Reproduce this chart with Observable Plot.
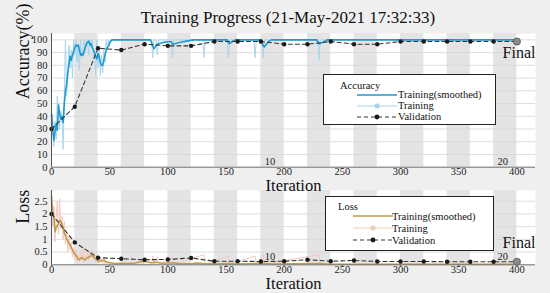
<!DOCTYPE html>
<html><head><meta charset="utf-8">
<script src="https://cdn.jsdelivr.net/npm/d3@7"></script>
<script src="https://cdn.jsdelivr.net/npm/@observablehq/plot@0.6"></script>
<style>
html,body{margin:0;padding:0;background:#efefef;}
#fig{position:relative;width:550px;height:293px;background:#efefef;font-family:"Liberation Serif","Times New Roman",serif;overflow:hidden;color:#111;}
#fig > svg{position:absolute;left:0;top:0;}
.title{position:absolute;left:40px;width:496px;top:8px;text-align:center;font-size:17px;line-height:20px;white-space:nowrap;}
.legend{position:absolute;background:#fff;border:1.5px solid #222;box-sizing:border-box;}
.legend .lt{position:absolute;font-size:10.5px;line-height:11px;white-space:nowrap;}
.legend .row{position:absolute;height:11px;white-space:nowrap;font-size:10.5px;line-height:11px;}
.legend .row svg{position:absolute;top:0.5px;left:0;}
.legend .row span{position:absolute;top:0;}
</style></head>
<body>
<div id="fig">
  <div class="title">Training Progress (21-May-2021 17:32:33)</div>
</div>
<script>
// ---------- data ----------
const xTicks = [0, 50, 100, 150, 200, 250, 300, 350, 400];
const accTicks = [0, 10, 20, 30, 40, 50, 60, 70, 80, 90, 100];
const lossTicks = [0, 0.5, 1, 1.5, 2, 2.5];
const epochBands = [[20,40],[60,80],[100,120],[140,160],[180,200],[220,240],[260,280],[300,320],[340,360],[380,400]];
const epochLabels = [{it: 200, label: "10"}, {it: 400, label: "20"}];

const rawAcc = [[0,30],[1,42],[2,16],[3,36],[4,22],[5,56],[6,46],[7,30],[8,44],[9,40],[10,14],[11,58],[12,100],[13,56],[14,72],[15,96],[16,78],[17,92],[18,70],[19,100],[20,88],[21,100],[22,82],[23,94],[24,76],[25,100],[26,86],[27,94],[28,100],[29,90],[30,100],[31,96],[32,88],[33,100],[34,94],[35,100],[36,86],[37,92],[38,72],[39,100],[40,78],[41,94],[42,72],[43,88],[44,74],[45,92],[46,82],[47,100],[48,92],[49,100],[50,96],[51,100],[52,100],[86,100],[87,86],[88,100],[90,100],[91,88],[92,100],[103,100],[104,86],[105,100],[130,100],[131,86],[132,100],[151,100],[152,86],[153,100],[174,100],[175,86],[176,100],[181,100],[182,86],[183,100],[229,100],[230,84],[231,100],[400,100]];

const smoothAcc = [[0,41],[1,30],[2,21],[3,28],[4,34],[5,29],[6,49],[7,42],[8,38],[9,40],[10,35],[11,50],[12,60],[13,65],[14,74],[15,81],[16,87],[17,84],[18,88],[19,91],[20,94],[21,96],[22,95],[23,96],[24,92],[25,88],[26,89],[27,88],[28,91],[29,94],[30,97],[31,98],[32,99],[33,96],[34,97],[35,94],[36,92],[37,90],[38,87],[39,85],[40,89],[41,87],[42,82],[43,80],[44,80],[45,84],[46,88],[47,92],[48,94],[49,95],[50,98],[51,99],[52,100],[85,100],[86,98],[87,95],[88,93],[89,94],[90,96],[92,97],[96,98],[101,98.5],[103,98.5],[104,96.5],[106,97],[110,98],[116,99],[122,100],[151,100],[152,98],[153,97],[155,98.5],[158,100],[180,100],[181,97.5],[182,95.5],[183,94.5],[185,97],[187,99],[189,100],[228,100],[229,98],[230,97],[233,98],[237,100],[400,100]];

const valAcc = [[0,30],[20,47.5],[40,93.5],[60,92],[80,96.6],[100,95.3],[120,95.3],[140,98.7],[160,98.7],[180,98.7],[200,96.6],[220,96.6],[240,98.7],[260,96.6],[280,96.6],[300,98.7],[320,98.7],[340,98.7],[360,98.7],[380,98.7],[400,98.7]];

const rawLoss = [[0,2.8],[1,1.5],[2,2.3],[3,0.9],[4,1.9],[5,2.5],[6,1.2],[7,2.6],[8,1.4],[9,1.9],[10,1.0],[11,1.7],[12,0.8],[13,1.3],[14,0.5],[15,1.1],[16,0.6],[17,0.9],[18,0.3],[19,0.7],[20,0.2],[21,0.6],[22,0.15],[23,0.4],[24,0.1],[25,0.5],[26,0.2],[27,0.7],[28,0.1],[29,0.4],[30,0.25],[31,0.6],[32,0.15],[33,0.5],[34,0.3],[35,0.6],[36,0.2],[37,0.45],[38,0.1],[39,0.3],[40,0.05],[41,0.35],[42,0.1],[43,0.25],[44,0.05],[45,0.3],[46,0.05],[47,0.15],[48,0.02],[49,0.1],[50,0.03],[52,0.02],[86,0.02],[87,0.35],[88,0.02],[91,0.3],[92,0.02],[104,0.3],[105,0.02],[131,0.4],[132,0.02],[152,0.35],[153,0.02],[175,0.35],[176,0.02],[182,0.4],[183,0.02],[230,0.4],[231,0.02],[400,0.02]];

const smoothLoss = [[0,2.7],[1,2.1],[2,1.9],[3,1.3],[4,1.45],[5,1.55],[6,1.6],[7,1.75],[8,1.7],[9,1.6],[10,1.45],[11,1.25],[12,1.15],[13,1.0],[14,0.95],[15,0.85],[16,0.78],[17,0.68],[18,0.58],[19,0.5],[20,0.42],[21,0.38],[22,0.3],[23,0.22],[24,0.2],[25,0.25],[26,0.28],[27,0.24],[28,0.2],[29,0.2],[30,0.24],[31,0.28],[32,0.3],[33,0.33],[34,0.36],[35,0.37],[36,0.32],[37,0.27],[38,0.24],[39,0.18],[40,0.14],[41,0.13],[43,0.16],[45,0.18],[47,0.12],[48,0.1],[50,0.08],[54,0.05],[60,0.06],[66,0.05],[72,0.07],[77,0.13],[82,0.12],[86,0.08],[90,0.1],[95,0.06],[104,0.08],[110,0.05],[120,0.04],[125,0.07],[130,0.05],[140,0.03],[152,0.05],[160,0.03],[182,0.06],[190,0.03],[230,0.05],[240,0.02],[400,0.02]];

const valLoss = [[0,2.0],[20,0.88],[40,0.28],[60,0.24],[80,0.2],[100,0.21],[120,0.27],[140,0.14],[160,0.14],[180,0.13],[200,0.14],[220,0.2],[240,0.14],[260,0.17],[280,0.13],[300,0.13],[320,0.13],[340,0.12],[360,0.12],[380,0.12],[400,0.12]];

// ---------- styling ----------
const C = {
  band: "#e4e4e4", grid: "#d6d6d6", axis: "#555",
  accRaw: "#a9d6ee", accSmooth: "#1d9bd0",
  lossRaw: "#f3c9c2", lossSmooth: "#c39a48",
  val: "#333", valDot: "#1a1a1a", final: "#8a8a8a"
};
const FONT = '"Liberation Serif","Times New Roman",serif';
const X = d => d[0], Y = d => d[1];

function panel({yDomain, yTicks, yFmt, mt, mb, raw, smooth, val, rawC, smoothC, ylabel, ylabelDy, finalDy, finalAnchor, epochDy, iterDy}) {
  return Plot.plot({
    width: 550, height: 293,
    marginLeft: 51, marginRight: 15, marginTop: mt, marginBottom: mb,
    style: {background: "transparent", fontFamily: FONT, fontSize: "10.5px", color: "#222", overflow: "visible"},
    x: {domain: [0, 416], ticks: xTicks, tickSize: 2, tickPadding: -1.5, label: null},
    y: {domain: yDomain, ticks: yTicks, tickSize: 0, tickPadding: 4, label: null, tickFormat: yFmt},
    marks: [
      Plot.frame({fill: "#fff", stroke: null}),
      Plot.rect(epochBands, {x1: X, x2: Y, fill: C.band}),
      Plot.ruleY(yTicks, {stroke: C.grid, strokeOpacity: 0.8}),
      Plot.line(raw, {x: X, y: Y, stroke: rawC, strokeWidth: 1}),
      Plot.line(smooth, {x: X, y: Y, stroke: smoothC, strokeWidth: 1.6}),
      Plot.line(val, {x: X, y: Y, stroke: C.val, strokeWidth: 1.1, strokeDasharray: "4,3"}),
      Plot.dot(val.slice(0, -1), {x: X, y: Y, r: 2.2, fill: C.valDot, stroke: null}),
      Plot.dot(val.slice(-1), {x: X, y: Y, r: 3.6, fill: C.final, stroke: "#555", strokeWidth: 0.8}),
      Plot.ruleX([0], {stroke: C.axis}),
      Plot.ruleY([0], {stroke: "#777"}),
      Plot.text(epochLabels, {x: "it", text: "label", frameAnchor: "bottom", textAnchor: "end", lineAnchor: "middle", dx: -9, dy: epochDy, fontSize: 10.5, fill: "#222"}),
      Plot.text(["Final"], {frameAnchor: finalAnchor, textAnchor: "end", lineAnchor: "middle", dy: finalDy, fontSize: 16, fill: "#111"}),
      Plot.text([ylabel], {frameAnchor: "left", rotate: -90, dx: -28, dy: ylabelDy, fontSize: 18, fill: "#111"}),
      Plot.text(["Iteration"], {frameAnchor: "bottom", lineAnchor: "middle", dy: iterDy, fontSize: 16.5, fill: "#111"})
    ]
  });
}

const fig = document.getElementById("fig");
const accPanel = panel({
  yDomain: [0, 105], yTicks: accTicks, yFmt: d => String(d), mt: 33, mb: 126.3,
  raw: rawAcc, smooth: smoothAcc, val: valAcc, rawC: C.accRaw, smoothC: C.accSmooth,
  ylabel: "Accuracy(%)", ylabelDy: -1, finalDy: 19, finalAnchor: "top-right", epochDy: -6, iterDy: 19
});
const lossPanel = panel({
  yDomain: [0, 2.92], yTicks: lossTicks, yFmt: d => String(d), mt: 190, mb: 28.7,
  raw: rawLoss, smooth: smoothLoss, val: valLoss, rawC: C.lossRaw, smoothC: C.lossSmooth,
  ylabel: "Loss", ylabelDy: -4, finalDy: -22, finalAnchor: "bottom-right", epochDy: -8, iterDy: 19
});
fig.appendChild(lossPanel);
fig.appendChild(accPanel);

// ---------- legends ----------
function swatch(kind, color) {
  const w = 40, h = 10;
  let s = `<svg width="${w}" height="${h}">`;
  if (kind === "line") s += `<line x1="0" x2="${w}" y1="5" y2="5" stroke="${color}" stroke-width="1.6"/>`;
  if (kind === "raw") s += `<line x1="0" x2="${w}" y1="5" y2="5" stroke="${color}" stroke-width="1.2"/><circle cx="${w/2}" cy="5" r="2.6" fill="${color}"/>`;
  if (kind === "val") s += `<line x1="0" x2="${w}" y1="5" y2="5" stroke="${C.val}" stroke-width="1.1" stroke-dasharray="4,3"/><circle cx="${w/2}" cy="5" r="2.4" fill="${C.valDot}"/>`;
  return s + `</svg>`;
}
function legend({left, top, width, height, title, titleX, titleY, rows, rowX, textX, smoothC, rawC}) {
  const d = document.createElement("div");
  d.className = "legend";
  Object.assign(d.style, {left: left + "px", top: top + "px", width: width + "px", height: height + "px"});
  let html = `<div class="lt" style="left:${titleX}px;top:${titleY - 5.5}px">${title}</div>`;
  const entries = [["line", smoothC, "Training(smoothed)"], ["raw", rawC, "Training"], ["val", null, "Validation"]];
  entries.forEach((e, i) => {
    html += `<div class="row" style="left:${rowX}px;top:${rows[i] - 5.5}px">${swatch(e[0], e[1])}<span style="left:${textX - rowX}px">${e[2]}</span></div>`;
  });
  d.innerHTML = html;
  fig.appendChild(d);
}
legend({left: 323, top: 74, width: 173, height: 51, title: "Accuracy", titleX: 16, titleY: 10,
  rows: [19.5, 30.5, 41.5], rowX: 33, textX: 74, smoothC: C.accSmooth, rawC: C.accRaw});
legend({left: 325, top: 196, width: 169, height: 55, title: "Loss", titleX: 12, titleY: 9,
  rows: [19, 31, 43], rowX: 27, textX: 66, smoothC: C.lossSmooth, rawC: "#e9d3b5"});
</script>
</body></html>
